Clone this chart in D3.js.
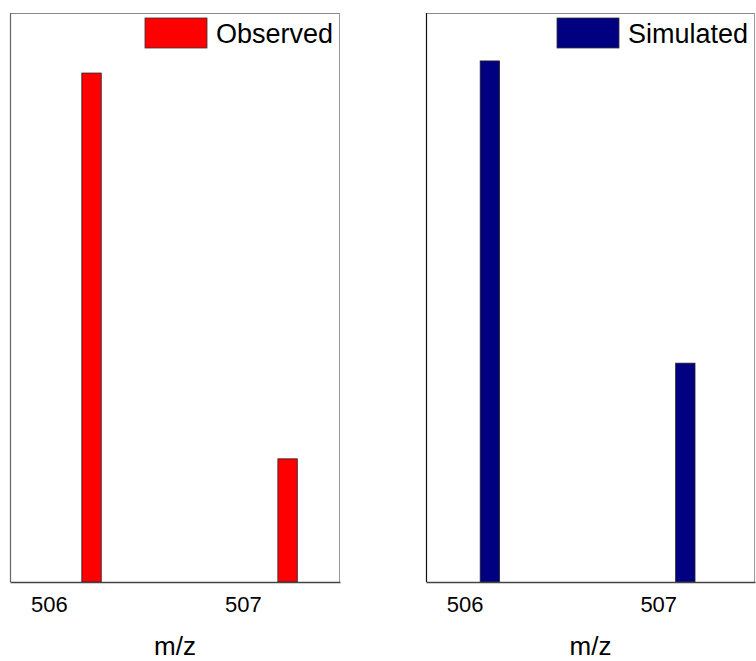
<!DOCTYPE html>
<html lang="en">
<head>
    <meta charset="UTF-8">
    <title>Observed vs Simulated isotope pattern</title>
    <script src="https://d3js.org/d3.v7.min.js"></script>
    <style>
        body { margin: 0; background: #fff; }
        svg { display: block; font-family: Arial, "Liberation Sans", sans-serif; }
    </style>
</head>
<body>
    <svg width="756" height="661"></svg>

    <script>
        // data
        const tickValues = [506, 507];
        const observedMz = [506.22, 507.23];
        const observedInt = [100, 24.2];
        const simulatedMz = [506.13, 507.14];
        const simulatedInt = [100, 42.0];

        const svg = d3.select("svg");

        const panels = [
            { name: "Observed", mz: observedMz, inten: observedInt, fill: "#ff0000",
              left: 10, right: 340, yMax: 111.8, leftStroke: "#666", legendX: 145 },
            { name: "Simulated", mz: simulatedMz, inten: simulatedInt, fill: "#000080",
              left: 426, right: 755, yMax: 109.2, leftStroke: "#111", legendX: 557 }
        ];
        const plotTop = 13, plotBottom = 582;
        const barW = 0.1; // in m/z units

        panels.forEach(p => {
            const g = svg.append("g");
            const x = d3.scaleLinear().domain([505.8, 507.5]).range([p.left, p.right]);
            const y = d3.scaleLinear().domain([0, p.yMax]).range([plotBottom, plotTop]);

            // frame
            g.append("line").attr("x1", p.left).attr("x2", p.right).attr("y1", plotTop + 0.5).attr("y2", plotTop + 0.5)
                .attr("stroke", "#888");
            g.append("line").attr("x1", p.right - 0.5).attr("x2", p.right - 0.5).attr("y1", plotTop).attr("y2", plotBottom)
                .attr("stroke", "#999");
            g.append("line").attr("x1", p.left + 0.5).attr("x2", p.left + 0.5).attr("y1", plotTop).attr("y2", plotBottom)
                .attr("stroke", p.leftStroke).attr("stroke-width", 1.2);

            // bars
            g.selectAll("rect.bar")
                .data(p.mz.map((m, i) => ({ m, v: p.inten[i] })))
                .enter().append("rect")
                .attr("class", "bar")
                .attr("x", d => x(d.m - barW / 2))
                .attr("width", d => x(d.m + barW / 2) - x(d.m - barW / 2))
                .attr("y", d => y(d.v))
                .attr("height", d => y(0) - y(d.v))
                .attr("fill", p.fill)
                .attr("stroke", "#222")
                .attr("stroke-width", 0.8);

            // x axis
            const ax = g.append("g")
                .attr("transform", `translate(0,${plotBottom})`)
                .call(d3.axisBottom(x).tickValues(tickValues).tickSize(0).tickPadding(14).tickFormat(d3.format("d")));
            ax.select(".domain").attr("stroke", "#444").attr("stroke-width", 1.5);
            ax.selectAll("text").attr("font-size", 22).attr("fill", "#000")
                .attr("font-family", "Arial, 'Liberation Sans', sans-serif");

            g.append("text")
                .attr("x", (p.left + p.right) / 2)
                .attr("y", 655)
                .attr("text-anchor", "middle")
                .attr("font-size", 26)
                .text("m/z");

            // legend
            g.append("rect")
                .attr("x", p.legendX).attr("y", 18)
                .attr("width", 62).attr("height", 30)
                .attr("fill", p.fill).attr("stroke", "#333").attr("stroke-width", 0.8);
            g.append("text")
                .attr("x", p.legendX + 71).attr("y", 43)
                .attr("font-size", 27)
                .text(p.name);
        });
    </script>
</body>
</html>
